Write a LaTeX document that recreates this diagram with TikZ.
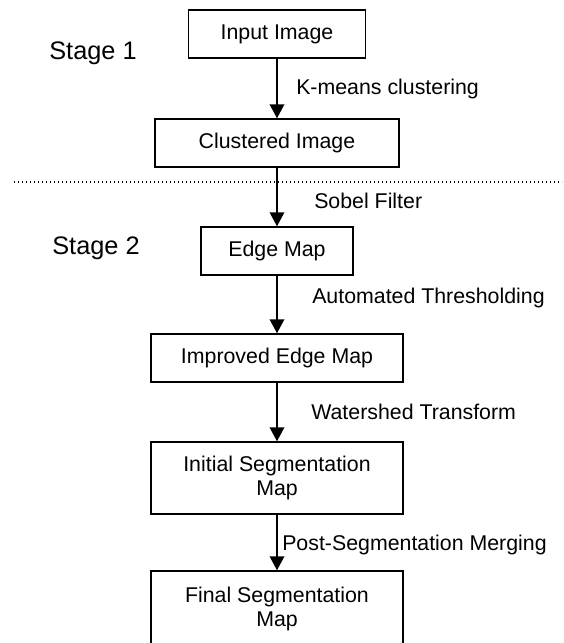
\documentclass[tikz,border=0pt]{standalone}
\usepackage{fontspec}
\setmainfont{Liberation Sans}
\usetikzlibrary{arrows.meta}
\def\px{0.75pt}
\tikzset{
	box/.style={draw, line width=1.1pt, inner sep=0pt, align=center, font=\fontsize{16}{18}\selectfont},
	lbl/.style={anchor=west, inner sep=0pt, font=\fontsize{16}{18}\selectfont},
	stagelbl/.style={inner sep=0pt, font=\fontsize{19}{22}\selectfont},
	arr/.style={line width=1.1pt, -{Triangle[width=11pt, length=10.5pt]}}
}

\begin{document}
\begin{tikzpicture}[x=0.75pt, y=-0.75pt]
			%%%%% START %%%%%
			
			\useasboundingbox (0, 0) rectangle (564, 643);
			
			\node[stagelbl] (s1) at (93, 53) {Stage 1};
			\node[stagelbl] (s2) at (96, 248) {Stage 2};
			
			\node[box, minimum width=177*\px, minimum height=48*\px] (inp) at (277, 34) {Input Image};
			\node[box, minimum width=244*\px, minimum height=48*\px] (clu) at (277, 143) {Clustered Image};
			\node[box, minimum width=152*\px, minimum height=48*\px] (edg) at (277, 251) {Edge Map};
			\node[box, minimum width=252*\px, minimum height=48*\px] (imp) at (277, 358) {Improved Edge Map};
			\node[box, minimum width=252*\px, minimum height=72*\px] (ini) at (277, 478) {Initial Segmentation\\Map};
			\node[box, minimum width=252*\px, minimum height=76*\px] (fin) at (277, 609) {Final Segmentation\\Map};
			
			\coordinate (dl) at (14, 182);
			\coordinate (dr) at (562, 182);
			\draw[line width=0.8pt, dash pattern=on 0.8pt off 2.2pt] (dl) -- (dr);
			
			\draw[arr] (inp) -- (clu);
			\draw[arr] (clu) -- (edg);
			\draw[arr] (edg) -- (imp);
			\draw[arr] (imp) -- (ini);
			\draw[arr] (ini) -- (fin);
			
			\node[lbl] (lkm) at (296, 89) {K-means clustering};
			\node[lbl] (lsob) at (314, 201) {Sobel Filter};
			\node[lbl] (laut) at (312, 298) {Automated Thresholding};
			\node[lbl] (lwat) at (311, 412) {Watershed Transform};
			\node[lbl] (lpost) at (282, 545) {Post-Segmentation Merging};
			
			%%%%% END %%%%%
\end{tikzpicture}
\end{document}
